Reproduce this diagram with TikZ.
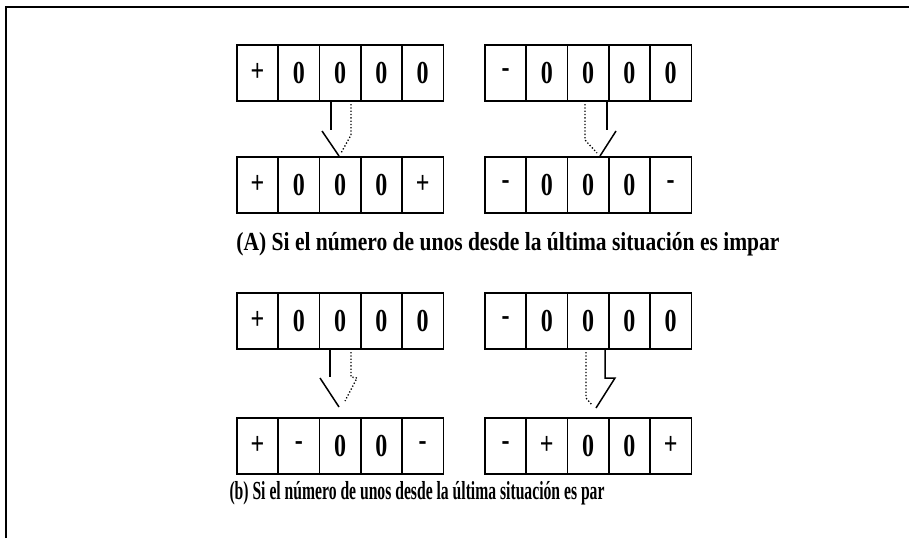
\documentclass[tikz,border=0pt]{standalone}
\usepackage{fontspec}
\setmainfont{Liberation Serif}
\usepackage{graphicx}
\newcommand\cellsym[1]{\scalebox{0.75}[1]{#1}}
\begin{document}
\begin{tikzpicture}[x=1pt,y=-1pt,
  cell/.style={draw, line width=1.7pt, minimum width=41.3pt, minimum height=56pt,
    inner sep=0pt, anchor=north west, font=\fontsize{32}{32}\selectfont\bfseries},
  arr/.style={line width=1.5pt},
  arrdot/.style={line width=1.3pt, dotted},
  caption/.style={anchor=base, inner sep=0pt, font=\fontsize{26}{26}\selectfont\bfseries}]
\useasboundingbox (0,0) rectangle (909,538);
\draw[line width=1.6pt] (6,538) -- (6,7) -- (909,7);
\foreach \r/\y/\la/\lb/\lc/\ld/\le/\ra/\rb/\rc/\rd/\re in {
  1/44/+/0/0/0/0/-/0/0/0/0,
  2/156/+/0/0/0/+/-/0/0/0/-,
  3/292/+/0/0/0/0/-/0/0/0/0,
  4/417/+/-/0/0/-/-/+/0/0/+}{
  \node[cell] (r\r l1) at (236,\y) {\cellsym{\la}};
  \node[cell] (r\r l2) at (277.3,\y) {\cellsym{\lb}};
  \node[cell] (r\r l3) at (318.6,\y) {\cellsym{\lc}};
  \node[cell] (r\r l4) at (359.9,\y) {\cellsym{\ld}};
  \node[cell] (r\r l5) at (401.2,\y) {\cellsym{\le}};
  \node[cell] (r\r r1) at (484,\y) {\cellsym{\ra}};
  \node[cell] (r\r r2) at (525.3,\y) {\cellsym{\rb}};
  \node[cell] (r\r r3) at (566.6,\y) {\cellsym{\rc}};
  \node[cell] (r\r r4) at (607.9,\y) {\cellsym{\rd}};
  \node[cell] (r\r r5) at (649.2,\y) {\cellsym{\re}};
}
% (A) arrows
\draw[arr] (331,100) -- (331,130);
\draw[arr] (322,131) -- (339,156);
\draw[arrdot] (351,104) -- (351,135) -- (341,153);
\draw[arr] (607,100) -- (607,130);
\draw[arr] (616,131) -- (600,156);
\draw[arrdot] (585,104) -- (585,140) -- (597,153);
% (b) arrows
\draw[arr] (330,348) -- (330,377);
\draw[arr] (320,378) -- (339,407);
\draw[arrdot] (351,352) -- (351,377) -- (357,378) -- (345,401);
\draw[arr] (605,348) -- (605,378) -- (615,378) -- (596,408);
\draw[arrdot] (586,352) -- (586,398) -- (592,405);
% captions
\node[caption] (capA) at (508,250) {\resizebox{543pt}{\height}{(A) Si el número de unos desde la última situación es impar}};
\node[caption] (capB) at (417,499) {\resizebox{375pt}{\height}{(b) Si el número de unos desde la última situación es par}};
\end{tikzpicture}
\end{document}
